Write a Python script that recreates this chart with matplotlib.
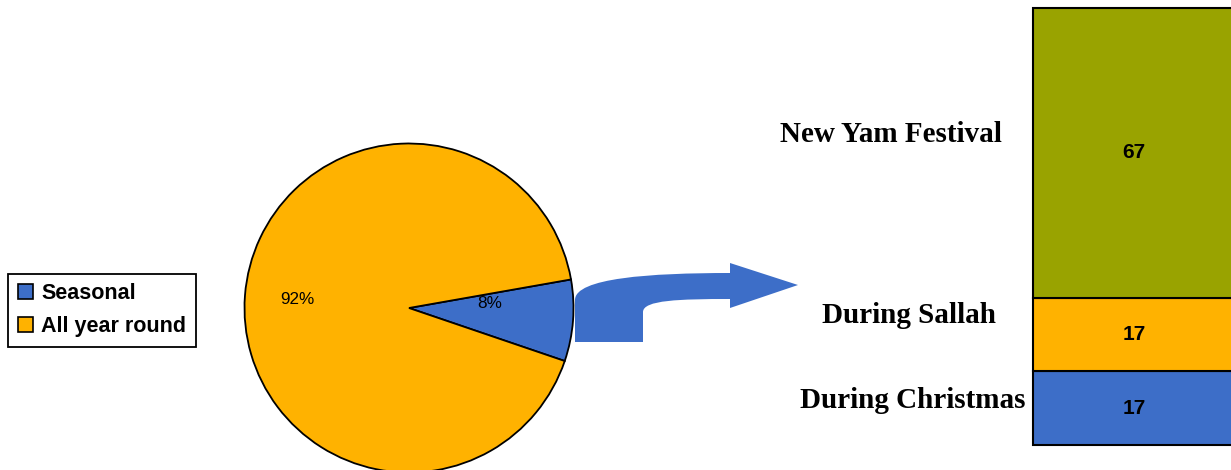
import matplotlib.pyplot as plt
from matplotlib.patches import Patch, PathPatch
from matplotlib.path import Path

# pie data
pie_labels = ["Seasonal", "All year round"]
pie_values = [8, 92]
pie_colors = ["#3D6EC8", "#FFB200"]

# stacked bar data (bottom to top)
bar_labels = ["During Christmas", "During Sallah", "New Yam Festival"]
bar_values = [17, 17, 67]
bar_colors = ["#3D6EC8", "#FFB200", "#99A300"]

W, H = 1231, 470
fig = plt.figure(figsize=(W / 100, H / 100), dpi=100)
plt.rcParams["font.family"] = "Liberation Sans"


def fx(x):
    return x / W


def fy(y):
    return (H - y) / H


# ---- pie ----
cx, cy, r = 409, 308, 164.5
ax_pie = fig.add_axes([fx(cx - r), fy(cy + r), 2 * r / W, 2 * r / H])
wedges, texts, autotexts = ax_pie.pie(
    pie_values, colors=pie_colors, startangle=10, counterclock=False,
    autopct="%d%%", radius=1,
    wedgeprops=dict(edgecolor="black", linewidth=1.3),
    textprops=dict(fontsize=12.3, color="black"),
)
autotexts[0].set_position((0.49, 0.025))
autotexts[1].set_position((-0.68, 0.05))
ax_pie.set_xlim(-1, 1)
ax_pie.set_ylim(-1, 1)
ax_pie.set_aspect("equal")
ax_pie.axis("off")
for w in wedges:
    w.set_clip_on(False)

handles = [Patch(facecolor=c, edgecolor="black", linewidth=1.2) for c in pie_colors]
leg = fig.legend(
    handles, pie_labels, loc="lower left",
    bbox_to_anchor=(fx(8), fy(347)), bbox_transform=fig.transFigure,
    borderaxespad=0, fancybox=False, edgecolor="black", framealpha=1,
    prop=dict(family="Liberation Sans", weight="bold", size=15.5),
    handlelength=0.7, handleheight=0.7, handletextpad=0.4,
    labelspacing=0.55, borderpad=0.45,
)
leg.get_frame().set_linewidth(1.3)

# ---- curved arrow ----
pts = [
    (575, 342), (575, 300),
    (575, 278), (650, 273), (730, 273),
    (730, 263), (798, 285), (730, 308), (730, 299),
    (680, 299), (643, 300), (643, 312),
    (643, 342), (575, 342),
]
codes = [
    Path.MOVETO, Path.LINETO,
    Path.CURVE4, Path.CURVE4, Path.CURVE4,
    Path.LINETO, Path.LINETO, Path.LINETO, Path.LINETO,
    Path.CURVE4, Path.CURVE4, Path.CURVE4,
    Path.LINETO, Path.CLOSEPOLY,
]
arrow = PathPatch(Path([(fx(x), fy(y)) for x, y in pts], codes),
                  transform=fig.transFigure, facecolor="#3D6EC8",
                  edgecolor="none")
fig.add_artist(arrow)

# ---- stacked bar ----
ax_bar = fig.add_axes([fx(1033), fy(445), 202 / W, 437 / H])
bottom = 0
for lab, val, col in zip(bar_labels, bar_values, bar_colors):
    ax_bar.bar(0, val, width=1, bottom=bottom, color=col,
               edgecolor="black", linewidth=1.5, clip_on=False)
    ax_bar.text(0, bottom + val / 2, str(val), ha="center", va="center",
                fontsize=15, fontweight="bold")
    bottom += val
ax_bar.set_xlim(-0.5, 0.5)
ax_bar.set_ylim(0, sum(bar_values))
ax_bar.axis("off")

# category labels to the left of the bar
label_pos = {"New Yam Festival": (1002, 142),
             "During Sallah": (996, 323),
             "During Christmas": (1025, 408)}
for lab in bar_labels:
    x, y = label_pos[lab]
    fig.text(fx(x), fy(y), lab, ha="right", va="baseline",
             family="Liberation Serif", fontweight="bold", fontsize=21)

fig.savefig("out.png", dpi=100)
